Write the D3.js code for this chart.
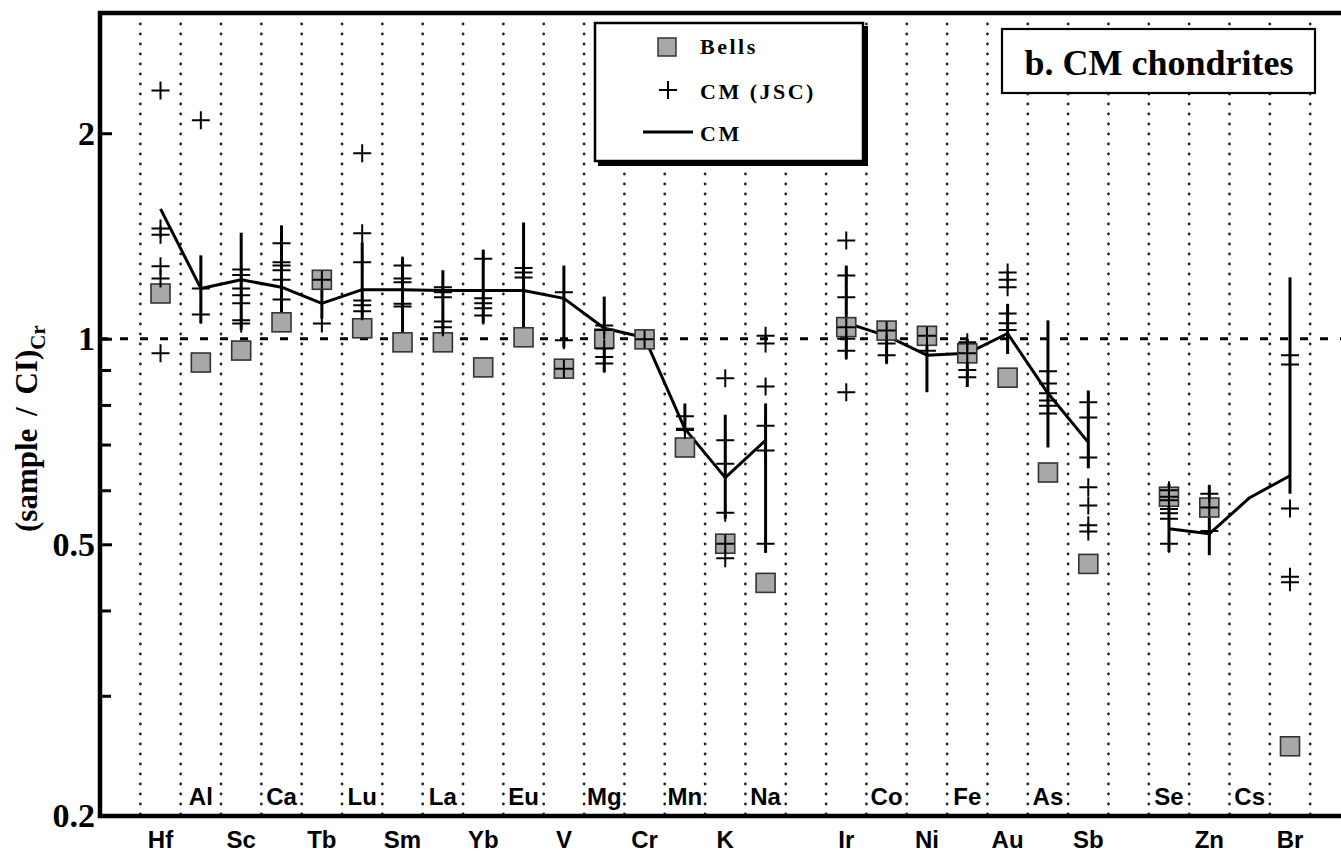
<!DOCTYPE html>
<html>
<head>
<meta charset="utf-8">
<script src="https://cdn.jsdelivr.net/npm/d3@7"></script>
<style>
  body { margin: 0; background: #fff; }
  svg { display: block; }
</style>
</head>
<body>
<div id="app"></div>
<script>
// element slots along the x axis ("" = empty slot)
const elements = ["Hf","Al","Sc","Ca","Tb","Lu","Sm","La","Yb","Eu","V","Mg","Cr","Mn","K","Na","",
                  "Ir","Co","Ni","Fe","Au","As","Sb","","Se","Zn","Cs","Br"];

// Bells (squares)
const bells = [1.165,0.923,0.961,1.057,1.22,1.036,0.988,0.988,0.908,1.005,0.904,1.0,0.998,0.693,0.501,0.439,null,
               1.04,1.028,1.01,0.952,0.877,0.637,0.468,null,0.587,0.566,null,0.253];

// CM mean (line) and its range (vertical bars)
const cmMean = [1.55,1.185,1.22,1.19,1.127,1.18,1.18,1.177,1.177,1.177,1.146,1.036,1.004,0.738,0.626,0.71,null,
                1.055,1.01,0.946,0.952,1.018,0.832,0.705,null,0.527,0.518,0.585,0.63];
const cmLow  = [null,1.053,1.03,1.09,1.07,1.05,1.005,1.005,1.053,0.978,0.97,0.893,null,0.73,0.545,0.486,null,
                0.935,0.92,0.835,0.85,0.95,0.693,0.646,null,0.487,0.482,null,0.593];
const cmHigh = [null,1.325,1.43,1.466,1.2,1.385,1.316,1.26,1.35,1.48,1.28,1.153,null,0.804,0.774,0.804,null,
                1.28,1.056,1.03,1.0,1.125,1.064,0.84,null,0.613,0.61,null,1.23];

// CM (JSC) individual analyses (pluses)
const jsc = [
  [2.31,1.45,1.42,1.277,1.225,0.952],
  [2.09,1.185,1.085],
  [1.263,1.24,1.185,1.158,1.127,1.064,1.053],
  [1.38,1.294,1.28,1.26,1.22,1.142],
  [1.22,1.053],
  [1.87,1.427,1.294,1.138,1.12,1.097],
  [1.28,1.225,1.21,1.125,1.115],
  [1.19,1.17,1.15,1.06,1.04],
  [1.31,1.146,1.127,1.108,1.082],
  [1.27,1.25,1.23],
  [1.17,0.995,0.904],
  [1.046,1.03,0.968,0.94,0.92],
  [0.998],
  [0.77,0.738,0.735],
  [0.875,0.71,0.656,0.556,0.501,0.477],
  [1.01,0.984,0.851,0.746,0.686,0.501],
  [],
  [1.393,1.238,1.15,1.04,1.0,0.96,0.835],
  [1.028,0.984,0.946],
  [1.01,0.96],
  [0.988,0.952,0.9,0.878],
  [1.25,1.22,1.19,1.089,1.054,1.03],
  [0.896,0.86,0.832,0.812,0.798,0.777],
  [0.807,0.767,0.67,0.606,0.57,0.533,0.522],
  [],
  [0.6,0.587,0.58,0.563,0.555,0.545,0.501],
  [0.593,0.566,0.523],
  [],
  [0.946,0.917,0.564,0.448,0.44]
];

const majorTicks = [0.2, 0.5, 1, 2];
const minorTicks = [0.3, 0.4, 0.6, 0.7, 0.8, 0.9];

const W = 1341, H = 853;
const mLeft = 100, mTop = 13, mBottom = 816;

const svg = d3.select("#app").append("svg")
    .attr("width", W)
    .attr("height", H);

svg.append("rect").attr("width", W).attr("height", H).attr("fill", "#fff");

const x = d3.scaleLinear().domain([-1, 30]).range([mLeft, 1350.5]);
const y = d3.scaleLog().domain([0.2, 3]).range([mBottom, mTop]);
const xc = i => x(i + 0.5);

// dotted separators
svg.append("g")
    .selectAll("line")
    .data(d3.range(0, 30))
    .join("line")
    .attr("x1", d => x(d)).attr("x2", d => x(d))
    .attr("y1", 24).attr("y2", mBottom)
    .attr("stroke", "#222")
    .attr("stroke-width", 2.8)
    .attr("stroke-linecap", "round")
    .attr("stroke-dasharray", "0,10");

// legend box
const lg = svg.append("g");
lg.append("rect").attr("x", 598).attr("y", 26).attr("width", 270).attr("height", 140).attr("fill", "#000");
lg.append("rect").attr("x", 595).attr("y", 23).attr("width", 268).attr("height", 138)
    .attr("fill", "#fff").attr("stroke", "#000").attr("stroke-width", 2.5);
lg.append("rect").attr("x", 658).attr("y", 38).attr("width", 18).attr("height", 18)
    .attr("fill", "#a8a8a8").attr("stroke", "#333").attr("stroke-width", 1.5);
lg.append("path").attr("d", "M659,90H677M668,81V99").attr("stroke", "#000").attr("stroke-width", 2);
lg.append("line").attr("x1", 643).attr("x2", 693).attr("y1", 132).attr("y2", 132)
    .attr("stroke", "#000").attr("stroke-width", 3);
const legTxt = [["Bells", 54], ["CM (JSC)", 99], ["CM", 141]];
lg.selectAll("text").data(legTxt).join("text")
    .attr("x", 700).attr("y", d => d[1])
    .attr("font-family", "'Liberation Serif', 'Times New Roman', serif")
    .attr("font-weight", "bold")
    .attr("font-size", 22)
    .attr("letter-spacing", 2.5)
    .text(d => d[0]);

// title box
svg.append("rect").attr("x", 1002).attr("y", 29).attr("width", 313).attr("height", 64)
    .attr("fill", "#fff").attr("stroke", "#000").attr("stroke-width", 2.2);
svg.append("text")
    .attr("x", 1159).attr("y", 75)
    .attr("text-anchor", "middle")
    .attr("font-family", "'Liberation Serif', 'Times New Roman', serif")
    .attr("font-weight", "bold")
    .attr("font-size", 36)
    .text("b. CM chondrites");

// reference line at 1
svg.append("line")
    .attr("x1", mLeft).attr("x2", W)
    .attr("y1", y(1)).attr("y2", y(1))
    .attr("stroke", "#000")
    .attr("stroke-width", 3)
    .attr("stroke-dasharray", "8,12");

// CM range bars
const idx = d3.range(elements.length);
svg.append("g")
    .selectAll("line")
    .data(idx.filter(i => cmLow[i] != null))
    .join("line")
    .attr("x1", i => xc(i)).attr("x2", i => xc(i))
    .attr("y1", i => y(cmLow[i])).attr("y2", i => y(cmHigh[i]))
    .attr("stroke", "#000")
    .attr("stroke-width", 3);

// CM mean line
const line = d3.line()
    .defined(i => cmMean[i] != null)
    .x(i => xc(i))
    .y(i => y(cmMean[i]));

svg.append("path")
    .datum(idx)
    .attr("d", line)
    .attr("fill", "none")
    .attr("stroke", "#000")
    .attr("stroke-width", 3)
    .attr("stroke-linejoin", "round");

// Bells squares
svg.append("g")
    .selectAll("rect")
    .data(idx.filter(i => bells[i] != null))
    .join("rect")
    .attr("x", i => xc(i) - 9.5)
    .attr("y", i => y(bells[i]) - 9.5)
    .attr("width", 19).attr("height", 19)
    .attr("fill", "#a8a8a8")
    .attr("stroke", "#333")
    .attr("stroke-width", 1.6);

// CM (JSC) pluses
const pts = [];
jsc.forEach((vals, i) => vals.forEach(v => pts.push({ i, v })));
svg.append("g")
    .selectAll("path")
    .data(pts)
    .join("path")
    .attr("transform", d => `translate(${xc(d.i)},${y(d.v)})`)
    .attr("d", "M-9,0H9M0,-9V9")
    .attr("stroke", "#000")
    .attr("stroke-width", 2);

// frame
svg.append("path")
    .attr("d", `M${W},${mTop}H${mLeft}V${mBottom}H${W}`)
    .attr("fill", "none")
    .attr("stroke", "#000")
    .attr("stroke-width", 4.5);

// y axis
const serif = "'Liberation Serif', 'Times New Roman', serif";
const yAxis = svg.append("g")
    .attr("transform", `translate(${mLeft},0)`)
    .call(d3.axisLeft(y).tickValues(majorTicks).tickFormat(d3.format("")).tickSize(-12).tickPadding(5));
yAxis.select(".domain").remove();
yAxis.selectAll(".tick line").attr("stroke-width", 3);
yAxis.selectAll(".tick text")
    .attr("font-family", serif)
    .attr("font-weight", "bold")
    .attr("font-size", 34)
    .attr("fill", "#000");

const yMinor = svg.append("g")
    .attr("transform", `translate(${mLeft},0)`)
    .call(d3.axisLeft(y).tickValues(minorTicks).tickFormat("").tickSize(-11));
yMinor.select(".domain").remove();
yMinor.selectAll(".tick line").attr("stroke-width", 3);

// y label
const yl = svg.append("text")
    .attr("transform", "translate(37,532) rotate(-90)")
    .attr("font-family", serif)
    .attr("font-weight", "bold")
    .attr("font-size", 31)
    .attr("word-spacing", 5);
yl.append("tspan").text("(sample / CI)");
yl.append("tspan").attr("dy", 8).attr("font-size", 21).text("Cr");

// x labels, alternating below / above the axis
let n = 0;
const labels = [];
elements.forEach((e, i) => {
    if (e) { labels.push({ e, i, low: n % 2 === 0 }); n++; }
});
svg.append("g")
    .selectAll("text")
    .data(labels)
    .join("text")
    .attr("x", d => xc(d.i))
    .attr("y", d => d.low ? 848 : 805)
    .attr("text-anchor", "middle")
    .attr("font-family", "'Liberation Sans', Arial, sans-serif")
    .attr("font-weight", "bold")
    .attr("font-size", 24)
    .text(d => d.e);
</script>
</body>
</html>
